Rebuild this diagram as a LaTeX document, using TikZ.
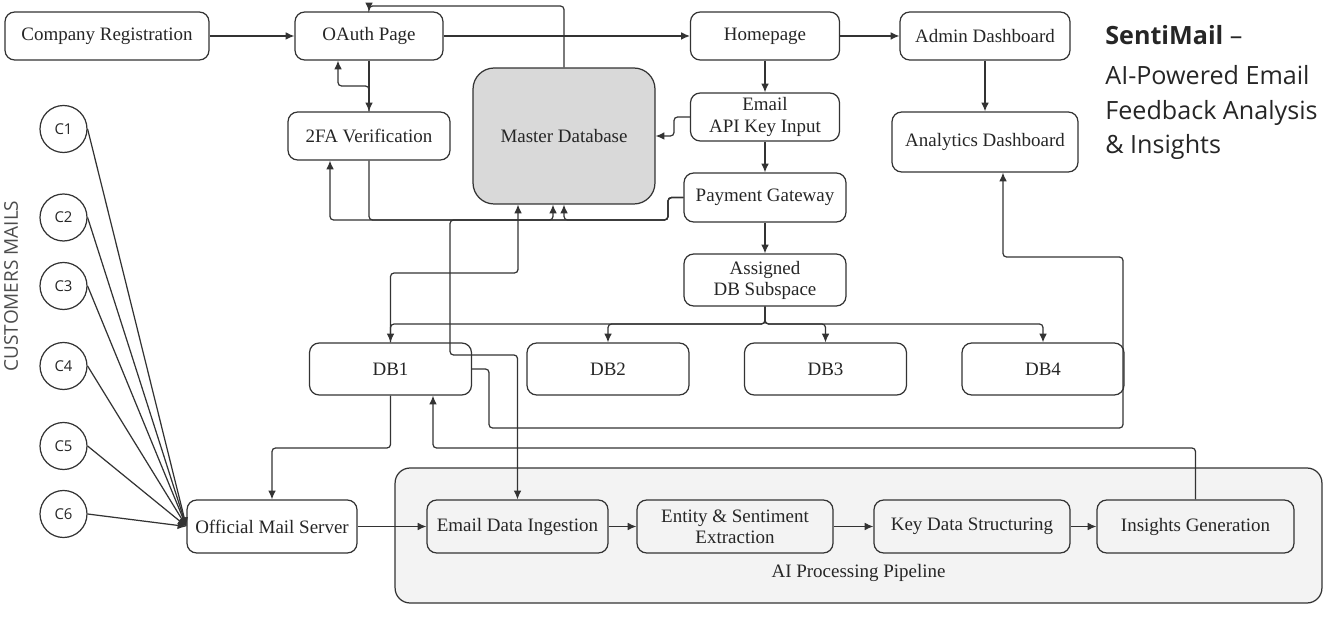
\documentclass[tikz,border=0pt]{standalone}
\usepackage{fontspec}
\setmainfont{Liberation Serif}
\newfontfamily\titlefont{Open Sans}
\usetikzlibrary{arrows.meta}
\definecolor{linegray}{HTML}{333333}
\definecolor{dbgray}{HTML}{D9D9D9}
\definecolor{pipegray}{HTML}{F3F3F3}

\begin{document}
\begin{tikzpicture}
  [x=0.02cm,y=-0.02cm,
   every node/.style={font=\fontsize{10.8}{12}\selectfont,text=black!85},
   box/.style={draw=linegray,line width=0.7pt,rounded corners=5.5pt,align=center,inner sep=0pt,minimum height=0.96cm},
   cust/.style={draw=linegray,line width=0.7pt,circle,minimum size=0.94cm,inner sep=0pt,font=\titlefont\fontsize{8.5}{10}\selectfont},
   link/.style={draw=linegray,line width=0.7pt,rounded corners=2pt,-{Latex[length=5pt,width=4.4pt]}}]
  \useasboundingbox (0,0) rectangle (1331,617);

  \node[box,minimum width=4.08cm] (reg) at (107,36) {Company Registration};
  \node[box,minimum width=2.96cm] (oauth) at (369,36) {OAuth Page};
  \node[box,minimum width=2.98cm] (home) at (765,36) {Homepage};
  \node[box,minimum width=3.4cm] (admin) at (985,36) {Admin Dashboard};
  \node[box,minimum width=2.98cm] (api) at (765,117) {Email\\API Key Input};
  \node[box,minimum width=3.64cm,minimum height=2.72cm,fill=dbgray,rounded corners=12pt] (mdb) at (564,136) {Master Database};
  \node[box,minimum width=3.24cm] (tfa) at (369,136) {2FA Verification};
  \node[box,minimum width=3.72cm,minimum height=1.2cm] (ana) at (985,142) {Analytics Dashboard};
  \node[box,minimum width=3.24cm,minimum height=0.98cm] (pay) at (765,197.5) {Payment Gateway};
  \node[box,minimum width=3.24cm,minimum height=1.04cm] (sub) at (765,280) {Assigned\\DB Subspace};
  \foreach \n/\x in {1/390.5,2/608,3/825.5,4/1043}
    \node[box,minimum width=3.24cm,minimum height=1.04cm] (db\n) at (\x,369) {DB\n};

  \node[rotate=90,font=\titlefont\fontsize{10.8}{13}\selectfont,text=black!70] (custlbl) at (11,286) {CUSTOMERS MAILS};
  \foreach \n/\y in {1/129,2/217.5,3/286,4/366,5/446,6/514}
    \node[cust] (c\n) at (63.5,\y) {C\n};
  \node[box,minimum width=3.4cm,minimum height=1.06cm] (oms) at (272,526.5) {Official Mail Server};

  \node[draw=linegray,line width=0.7pt,fill=pipegray,rounded corners=8.5pt,minimum width=18.54cm,minimum height=2.7cm,inner sep=0pt] (pipe) at (858.5,535.5) {};
  \node (pipelbl) at (858.5,573) {AI Processing Pipeline};
  \node[box,fill=pipegray,minimum width=3.62cm,minimum height=1.06cm] (ingest) at (517.5,526.5) {Email Data Ingestion};
  \node[box,fill=pipegray,minimum width=3.92cm,minimum height=1.06cm] (ent) at (735,526.5) {Entity \& Sentiment\\Extraction};
  \node[box,fill=pipegray,minimum width=3.92cm,minimum height=1.06cm] (keyd) at (972,526.5) {Key Data Structuring};
  \node[box,fill=pipegray,minimum width=3.94cm,minimum height=1.06cm] (ins) at (1195.5,526.5) {Insights Generation};

  \node[anchor=north west,align=left,inner sep=0pt,font=\titlefont\fontsize{14.3}{19.7}\selectfont,text=black!85] (title) at (1105,25)
    {\textbf{SentiMail} –\\[3.2pt]AI-Powered Email\\Feedback Analysis\\\& Insights};

  \foreach \from/\to in {reg/oauth,oauth/home,home/admin,home/api,api/pay,pay/sub,admin/ana,oauth/tfa,oms/ingest,ingest/ent,ent/keyd,keyd/ins}
    \draw[link] (\from) -- (\to);
  \foreach \n in {1,...,6}
    \draw[link] (c\n.east) -- (oms.west);
  \foreach \d in {db1,db2,db3,db4}
    \draw[link] (sub.south) -- (765,324) -| (\d.north);

  \draw[link] (mdb.north) -- (564,6) -| (oauth.north);
  \draw[link] (tfa.north) -- (369,86) -| ([xshift=-0.62cm]oauth.south);
  \draw[link] (tfa.south) |- (553,220) -- ([xshift=-0.22cm]mdb.south);
  \draw[link] (pay.west) -- (668,197.5) -- (668,220) -| ([xshift=-0.78cm]tfa.south);
  \draw[link] (pay.west) -- (668,197.5) -- (668,220) -| (mdb.south);
  \draw[link] (pay.west) -- (668,197.5) -- (668,220) -- (450,220) -- (450,355) -| (ingest.north);
  \draw[link,{Latex[length=5pt,width=4.4pt]}-] ([xshift=-0.92cm]mdb.south) -- (518,273) -| (db1.north);
  \draw[link] (api.west) -- (674,117) -- (674,136) -- (mdb.east);
  \draw[link] (db1.east) -- (489,369) -- (489,428) -- (1123,428) -- (1123,257) -| ([xshift=0.36cm]ana.south);
  \draw[link] (db1.south) -- (390.5,448) -| (oms.north);
  \draw[link] (ins.north) -- (1195.5,448) -| ([xshift=0.85cm]db1.south);

\end{tikzpicture}
\end{document}
